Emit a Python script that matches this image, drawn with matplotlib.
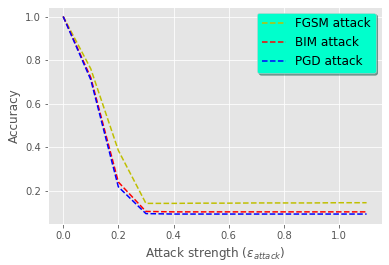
import matplotlib
matplotlib.use("Agg")
import matplotlib.pyplot as plt

EPS = [0.0, 0.1, 0.2, 0.3, 0.4, 0.5, 0.6, 0.7, 0.8, 0.9, 1.0, 1.1]
FGSM = [1.0, 0.76, 0.385, 0.142, 0.142, 0.143, 0.143, 0.144, 0.144, 0.144, 0.145, 0.145]
BIM = [1.0, 0.72, 0.24, 0.105, 0.103, 0.103, 0.103, 0.103, 0.103, 0.103, 0.103, 0.103]
PGD = [1.0, 0.71, 0.218, 0.095, 0.093, 0.093, 0.093, 0.093, 0.093, 0.093, 0.093, 0.093]

plt.style.use("ggplot")
fig = plt.figure(figsize=(389 / 72, 265 / 72), dpi=72)
ax = fig.add_axes([0.1234, 0.155, 0.858, 0.82])

ax.plot(EPS, FGSM, "y--", label="FGSM attack")
ax.plot(EPS, BIM, "r--", label="BIM attack")
ax.plot(EPS, PGD, "b--", label="PGD attack")

ax.set_xlabel(r"Attack strength ($\epsilon_{attack}$)")
ax.set_ylabel("Accuracy")
ax.legend(loc="upper right", facecolor="#00FFCC", framealpha=1,
          shadow=True, fontsize=12)

fig.savefig("out.png", dpi=72)
